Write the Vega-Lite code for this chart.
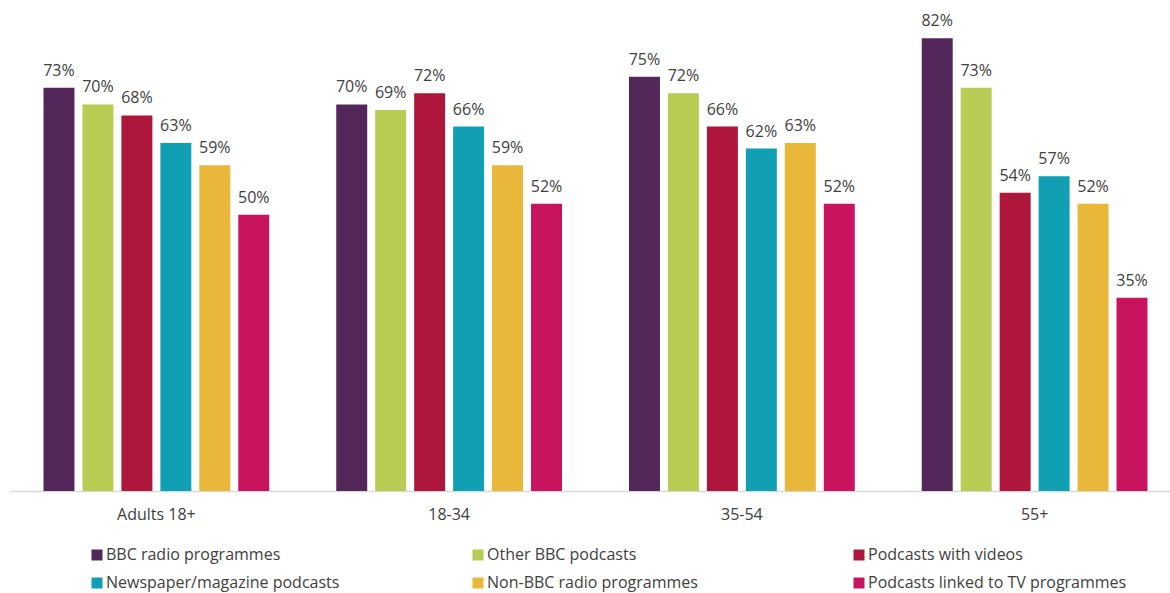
{
  "$schema": "https://vega.github.io/schema/vega-lite/v6.json",
  "width": 1161,
  "height": 486,
  "autosize": {"type": "none"},
  "padding": {"left": 10, "top": 5, "right": 0, "bottom": 102},
  "background": "white",
  "config": {
    "view": {"stroke": null},
    "font": "Open Sans",
    "text": {"font": "Open Sans"}
  },
  "data": {
    "values": [
      {"group": "Adults 18+", "series": "BBC radio programmes", "value": 0.73},
      {"group": "Adults 18+", "series": "Other BBC podcasts", "value": 0.70},
      {"group": "Adults 18+", "series": "Podcasts with videos", "value": 0.68},
      {"group": "Adults 18+", "series": "Newspaper/magazine podcasts", "value": 0.63},
      {"group": "Adults 18+", "series": "Non-BBC radio programmes", "value": 0.59},
      {"group": "Adults 18+", "series": "Podcasts linked to TV programmes", "value": 0.50},
      {"group": "18-34", "series": "BBC radio programmes", "value": 0.70},
      {"group": "18-34", "series": "Other BBC podcasts", "value": 0.69},
      {"group": "18-34", "series": "Podcasts with videos", "value": 0.72},
      {"group": "18-34", "series": "Newspaper/magazine podcasts", "value": 0.66},
      {"group": "18-34", "series": "Non-BBC radio programmes", "value": 0.59},
      {"group": "18-34", "series": "Podcasts linked to TV programmes", "value": 0.52},
      {"group": "35-54", "series": "BBC radio programmes", "value": 0.75},
      {"group": "35-54", "series": "Other BBC podcasts", "value": 0.72},
      {"group": "35-54", "series": "Podcasts with videos", "value": 0.66},
      {"group": "35-54", "series": "Newspaper/magazine podcasts", "value": 0.62},
      {"group": "35-54", "series": "Non-BBC radio programmes", "value": 0.63},
      {"group": "35-54", "series": "Podcasts linked to TV programmes", "value": 0.52},
      {"group": "55+", "series": "BBC radio programmes", "value": 0.82},
      {"group": "55+", "series": "Other BBC podcasts", "value": 0.73},
      {"group": "55+", "series": "Podcasts with videos", "value": 0.54},
      {"group": "55+", "series": "Newspaper/magazine podcasts", "value": 0.57},
      {"group": "55+", "series": "Non-BBC radio programmes", "value": 0.52},
      {"group": "55+", "series": "Podcasts linked to TV programmes", "value": 0.35}
    ]
  },
  "encoding": {
    "x": {
      "field": "group", "type": "nominal", "sort": null,
      "scale": {"range": [0, 1171], "paddingInner": 0, "paddingOuter": 0},
      "axis": {
        "title": null, "labelAngle": 0, "ticks": false,
        "domainColor": "#d9d9d9", "domainWidth": 1.3,
        "labelFont": "Open Sans", "labelFontSize": 16, "labelColor": "#404040",
        "labelPadding": 15
      }
    },
    "xOffset": {
      "field": "series", "type": "nominal", "sort": null,
      "scale": {"paddingInner": 0.205, "paddingOuter": 0.86}
    },
    "y": {
      "field": "value", "type": "quantitative",
      "scale": {"domain": [0, 0.88], "nice": false, "zero": true},
      "axis": null
    }
  },
  "layer": [
    {
      "mark": {"type": "bar"},
      "encoding": {
        "color": {
          "field": "series", "type": "nominal",
          "scale": {
            "domain": ["BBC radio programmes", "Other BBC podcasts", "Podcasts with videos", "Newspaper/magazine podcasts", "Non-BBC radio programmes", "Podcasts linked to TV programmes"],
            "range": ["#54275A", "#B8CB52", "#AE163B", "#119FB3", "#E9B73A", "#C8135F"]
          },
          "legend": {
            "title": null, "orient": "none", "legendX": 79, "legendY": 542,
            "direction": "horizontal", "columns": 3, "gridAlign": "all",
            "columnPadding": 105, "rowPadding": 12, "padding": 0,
            "symbolType": "square", "symbolSize": 121, "symbolStrokeWidth": 0,
            "symbolOffset": 0, "labelOffset": 1,
            "labelFont": "Open Sans", "labelFontSize": 16, "labelColor": "#404040",
            "labelLimit": 400
          }
        }
      }
    },
    {
      "mark": {"type": "text", "baseline": "alphabetic", "dy": -12, "fontSize": 16, "color": "#404040", "font": "Open Sans"},
      "encoding": {
        "text": {"field": "value", "type": "quantitative", "format": ".0%"}
      }
    }
  ]
}
